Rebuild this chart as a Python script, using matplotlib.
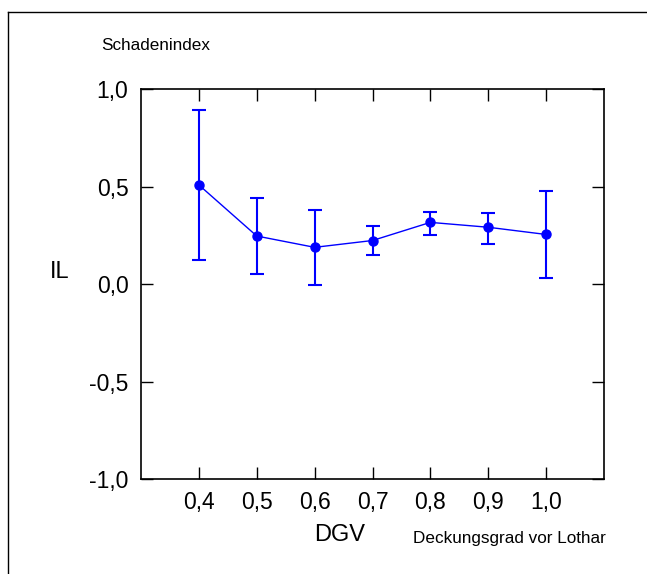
import matplotlib
matplotlib.use('Agg')
import matplotlib.pyplot as plt
from matplotlib.lines import Line2D
from matplotlib.ticker import FuncFormatter

# data
dgv = [0.4, 0.5, 0.6, 0.7, 0.8, 0.9, 1.0]
il_mean = [0.508, 0.246, 0.188, 0.223, 0.316, 0.291, 0.254]
il_upper = [0.892, 0.439, 0.381, 0.299, 0.369, 0.364, 0.476]
il_lower = [0.123, 0.051, -0.005, 0.149, 0.251, 0.205, 0.029]
x_ticks = [0.4, 0.5, 0.6, 0.7, 0.8, 0.9, 1.0]
y_ticks = [-1.0, -0.5, 0.0, 0.5, 1.0]

plt.rcParams['font.family'] = ['Liberation Sans', 'DejaVu Sans']

W, H = 647, 574
fig = plt.figure(figsize=(W/100, H/100), dpi=100)
ax = fig.add_axes([141/W, 1-479/H, (604-141)/W, (479-89)/H])

err = [[m-l for m, l in zip(il_mean, il_lower)], [u-m for m, u in zip(il_mean, il_upper)]]
ax.errorbar(dgv, il_mean, yerr=err, color='#0000ff', lw=1.0, elinewidth=1.5,
            capsize=5, capthick=1.5, marker='o', ms=6.5, zorder=3)

ax.set_xlim(0.3, 1.1); ax.set_ylim(-1.0, 1.0)
ax.set_xticks(x_ticks); ax.set_yticks(y_ticks)
comma = FuncFormatter(lambda v, p: '{:.1f}'.format(v).replace('.', ','))
ax.xaxis.set_major_formatter(comma); ax.yaxis.set_major_formatter(comma)
ax.tick_params(direction='in', length=8.5, width=1.0, labelsize=16.5, top=True, right=True,
               labeltop=False, labelright=False, pad=9, color='black')
for s in ax.spines.values(): s.set_linewidth(1.2)

fig.text(60/W, 1-272/H, 'IL', fontsize=17, ha='center', va='center')
fig.text(340/W, 1-535/H, 'DGV', fontsize=17, ha='center', va='center')
fig.text(509/W, 1-539/H, 'Deckungsgrad vor Lothar', fontsize=12.3, ha='center', va='center')
fig.text(156/W, 1-45/H, 'Schadenindex', fontsize=12.3, ha='center', va='center')

# outer frame (cut off at right and bottom)
fig.add_artist(Line2D([8/W, 1.0], [1-12/H, 1-12/H], transform=fig.transFigure, color='black', lw=1.0))
fig.add_artist(Line2D([8/W, 8/W], [1-12/H, 0.0], transform=fig.transFigure, color='black', lw=1.0))

plt.savefig('out.png', dpi=100)
